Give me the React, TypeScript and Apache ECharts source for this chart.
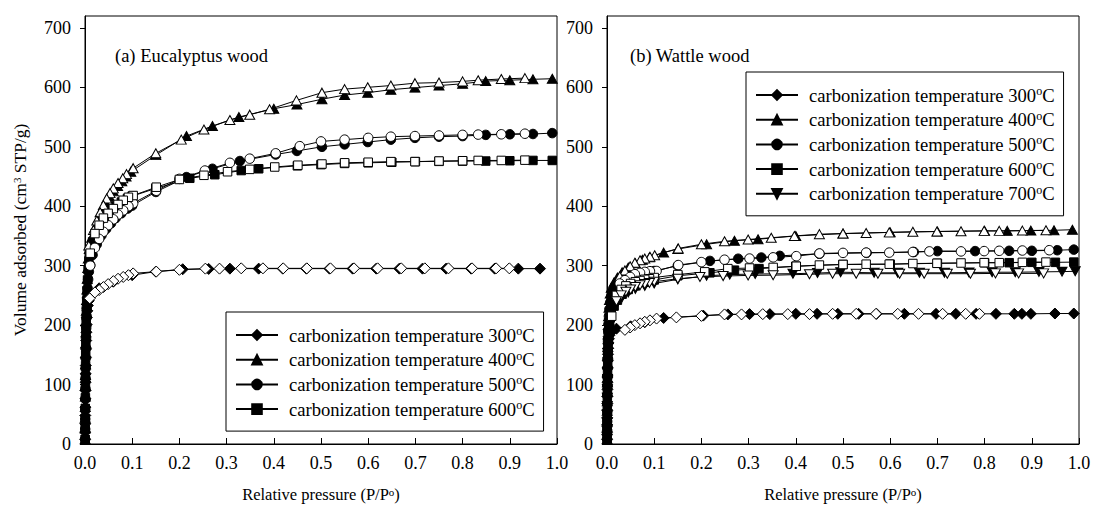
import React, { useEffect, useRef } from "react";
import * as echarts from "echarts";

type P = [number, number];

// ---------- data (P/P0, volume adsorbed cm3 STP/g) ----------
const tempLabels = ["300", "400", "500", "600", "700"];
const xTicks = [0, 0.1, 0.2, 0.3, 0.4, 0.5, 0.6, 0.7, 0.8, 0.9, 1.0];
const yTicks = [0, 100, 200, 300, 400, 500, 600, 700];

// (a) Eucalyptus wood
const eucAds300: P[] = [[0.0003,8],[0.0004,20],[0.0005,34],[0.0006,48],[0.0008,62],[0.0009,76],[0.0011,90],[0.0013,104],[0.0015,118],[0.0017,132],[0.002,146],[0.0023,160],[0.0026,174],[0.003,188],[0.0035,201],[0.004,213],[0.005,224],[0.006,233],[0.008,241],[0.012,250],[0.03,262],[0.06,273],[0.1,284],[0.15,290],[0.207,294],[0.262,294.5],[0.307,295],[0.368,295],[0.419,295],[0.469,295],[0.518,295],[0.567,295],[0.617,295],[0.666,295],[0.715,295],[0.765,295],[0.818,295],[0.868,295],[0.918,295],[0.964,295]];
const eucDes300: P[] = [[0.899,295.5],[0.871,295.5],[0.82,295.5],[0.77,295.5],[0.72,295.5],[0.67,295.5],[0.62,295.5],[0.57,295.5],[0.52,295.5],[0.47,295.5],[0.42,295.5],[0.377,295.5],[0.331,295.5],[0.285,295],[0.255,295],[0.2,293],[0.151,290],[0.102,287],[0.092,284],[0.081,281],[0.07,278],[0.06,274],[0.049,269],[0.039,264],[0.03,259],[0.021,255],[0.01,245]];
const eucAds400: P[] = [[0.0003,8],[0.0004,26],[0.0005,44],[0.0006,62],[0.0008,80],[0.0009,98],[0.0011,116],[0.0013,134],[0.0015,152],[0.0018,170],[0.002,188],[0.0024,206],[0.0028,224],[0.0033,242],[0.004,260],[0.0048,278],[0.0058,296],[0.007,312],[0.009,328],[0.014,347],[0.021,364],[0.028,379],[0.036,393],[0.044,405],[0.052,416],[0.06,425],[0.069,434],[0.078,442],[0.087,450],[0.097,458],[0.15,486],[0.215,518],[0.27,535],[0.326,550],[0.4,564],[0.449,571],[0.502,580],[0.55,587],[0.599,591],[0.648,596],[0.699,599.5],[0.75,603],[0.8,606],[0.849,610.5],[0.9,612],[0.949,613.5],[0.99,614.5]];
const eucDes400: P[] = [[0.932,615.5],[0.882,614],[0.833,612],[0.8,610],[0.75,608],[0.699,607],[0.648,603],[0.599,600],[0.55,597],[0.502,591],[0.448,578],[0.391,563],[0.349,554],[0.307,545],[0.252,529],[0.204,512],[0.15,489],[0.102,464],[0.088,454],[0.08,447],[0.07,439],[0.06,430],[0.053,422],[0.046,413],[0.039,402],[0.032,390],[0.025,376],[0.018,360],[0.008,334]];
const eucAds500: P[] = [[0.0003,8],[0.0004,25],[0.0005,42],[0.0006,59],[0.0008,76],[0.0009,93],[0.0011,110],[0.0013,127],[0.0015,144],[0.0018,161],[0.0021,178],[0.0025,195],[0.003,212],[0.0036,229],[0.0044,246],[0.0054,262],[0.0066,277],[0.0082,290],[0.011,301],[0.016,318],[0.025,336],[0.035,351],[0.045,362],[0.055,371],[0.065,380],[0.077,388],[0.09,396],[0.1,401],[0.15,424],[0.215,449],[0.27,463],[0.328,476],[0.404,487],[0.449,493],[0.502,500],[0.55,504],[0.599,508],[0.648,512],[0.699,515],[0.75,517],[0.8,518],[0.849,520],[0.9,521],[0.949,521.5],[0.99,523]];
const eucDes500: P[] = [[0.932,522],[0.882,521],[0.833,520.5],[0.8,520],[0.75,519],[0.699,518],[0.648,517],[0.6,515],[0.55,512],[0.5,509],[0.455,501],[0.404,489],[0.349,480],[0.307,473],[0.254,460],[0.2,446],[0.151,426],[0.102,405],[0.092,400],[0.081,393],[0.07,386],[0.06,378],[0.049,368],[0.039,357],[0.03,345],[0.021,330],[0.011,300]];
const eucAds600: P[] = [[0.0003,8],[0.0004,25],[0.0005,42],[0.0006,60],[0.0008,78],[0.0009,96],[0.0011,114],[0.0013,132],[0.0015,150],[0.0018,168],[0.0021,186],[0.0025,204],[0.003,222],[0.0036,240],[0.0044,258],[0.0054,276],[0.0066,293],[0.0082,308],[0.011,322],[0.016,340],[0.025,358],[0.035,373],[0.045,384],[0.055,392],[0.066,400],[0.077,407],[0.09,413],[0.1,417],[0.15,430],[0.222,447],[0.275,453],[0.331,460],[0.368,463],[0.45,468],[0.5,470],[0.55,472],[0.6,473],[0.65,474],[0.7,475],[0.75,475.5],[0.8,476],[0.849,476],[0.9,476.5],[0.949,477],[0.99,477]];
const eucDes600: P[] = [[0.932,477.5],[0.882,477],[0.833,477],[0.8,476.5],[0.75,476],[0.699,475],[0.648,475],[0.6,474],[0.55,473],[0.502,471],[0.451,469],[0.402,466],[0.349,462],[0.302,458],[0.252,452],[0.2,445],[0.151,432],[0.102,418],[0.092,415],[0.081,410],[0.07,403],[0.06,396],[0.049,388],[0.039,380],[0.03,368],[0.021,354],[0.011,321]];

// (b) Wattle wood
const watAds300: P[] = [[0.0002,8],[0.0003,20],[0.0004,32],[0.0005,44],[0.0006,56],[0.0007,68],[0.0008,80],[0.001,92],[0.0011,104],[0.0013,116],[0.0015,128],[0.0018,140],[0.0021,151],[0.0026,161],[0.0032,170],[0.004,177],[0.0052,183],[0.007,188],[0.012,191],[0.02,194],[0.05,198],[0.08,205],[0.12,212],[0.204,216],[0.256,218],[0.302,218.5],[0.345,218.5],[0.4,219],[0.445,219],[0.489,219],[0.533,219],[0.571,219],[0.63,219],[0.697,219],[0.739,219],[0.782,219],[0.824,219],[0.863,219],[0.879,219],[0.898,219],[0.949,219.5],[0.989,219.5]];
const watDes300: P[] = [[0.789,219],[0.76,219],[0.711,219],[0.66,219],[0.616,219],[0.57,219],[0.528,219],[0.478,219],[0.429,218.5],[0.383,218.5],[0.33,218.5],[0.285,218],[0.249,218],[0.2,215.5],[0.147,213],[0.105,211],[0.091,208],[0.08,205.5],[0.07,203],[0.059,200],[0.049,196],[0.038,192]];
const watAds400: P[] = [[0.0002,8],[0.0003,24],[0.0004,40],[0.0005,56],[0.0006,72],[0.0007,88],[0.0009,104],[0.001,120],[0.0012,136],[0.0015,152],[0.0018,168],[0.0022,184],[0.0027,200],[0.0033,215],[0.0041,229],[0.0052,242],[0.0068,253],[0.009,263],[0.015,272],[0.022,280],[0.032,289],[0.045,297],[0.06,304],[0.075,310],[0.09,314],[0.12,322],[0.15,328],[0.211,336],[0.27,342],[0.32,344.5],[0.4,350],[0.5,354],[0.6,356],[0.7,357.5],[0.8,358.5],[0.848,358.5],[0.898,359],[0.947,359.5],[0.986,360.5]];
const watDes400: P[] = [[0.93,359.5],[0.88,359],[0.831,358.5],[0.799,358.5],[0.75,358],[0.699,357.5],[0.648,357],[0.598,356],[0.549,355],[0.5,354],[0.45,353],[0.397,350],[0.348,347],[0.299,344],[0.249,341],[0.2,336],[0.151,329],[0.101,317.5],[0.091,315],[0.08,312],[0.07,309],[0.059,305],[0.049,299],[0.038,292],[0.027,282]];
const watAds500: P[] = [[0.0002,8],[0.0003,23],[0.0004,38],[0.0005,53],[0.0006,68],[0.0007,83],[0.0009,98],[0.001,113],[0.0012,128],[0.0015,143],[0.0018,158],[0.0022,173],[0.0027,188],[0.0033,202],[0.0041,215],[0.0052,227],[0.0068,238],[0.009,248],[0.015,257],[0.022,264],[0.032,272],[0.045,279],[0.06,284],[0.08,288],[0.1,291],[0.15,300],[0.218,308],[0.278,311.7],[0.327,313.7],[0.366,316.5],[0.45,320],[0.55,321.5],[0.65,323],[0.7,324.5],[0.78,324.5],[0.852,325],[0.9,325],[0.954,326],[0.989,327]];
const watDes500: P[] = [[0.937,326],[0.88,325.5],[0.831,325],[0.799,324.5],[0.75,324],[0.683,324],[0.648,323],[0.598,322],[0.549,322],[0.5,321.5],[0.45,320.5],[0.401,316],[0.352,314],[0.302,312],[0.249,310],[0.2,306],[0.151,301],[0.105,291],[0.091,290.7],[0.08,289.6],[0.07,288],[0.059,285.7],[0.049,281],[0.038,275.6],[0.027,270]];
const watAds600: P[] = [[0.0002,8],[0.0003,22],[0.0004,36],[0.0005,50],[0.0006,64],[0.0007,78],[0.0009,92],[0.001,106],[0.0012,120],[0.0015,134],[0.0018,148],[0.0022,162],[0.0027,175],[0.0033,187],[0.0041,197],[0.0052,205],[0.0068,212],[0.009,220],[0.015,232],[0.022,242],[0.032,252],[0.045,260],[0.06,266],[0.08,272],[0.1,276],[0.15,283],[0.218,288],[0.27,292.4],[0.322,295],[0.4,299],[0.5,302],[0.6,302.5],[0.7,304],[0.8,305],[0.852,305],[0.9,305.6],[0.95,305.6],[0.989,306]];
const watDes600: P[] = [[0.93,306],[0.88,305.6],[0.831,305],[0.799,305],[0.75,304.5],[0.699,304],[0.648,303.6],[0.598,302.5],[0.549,302.5],[0.5,302],[0.45,301],[0.401,299],[0.352,297],[0.302,296],[0.256,295],[0.207,289.6],[0.15,285],[0.1,280],[0.09,278],[0.08,277],[0.07,275],[0.06,273],[0.05,270],[0.04,266],[0.03,260],[0.02,250],[0.01,215]];
const watAds700: P[] = [[0.0002,8],[0.0003,22],[0.0004,36],[0.0005,50],[0.0006,64],[0.0007,78],[0.0009,92],[0.001,106],[0.0012,120],[0.0015,134],[0.0018,148],[0.0022,161],[0.0027,173],[0.0033,184],[0.0041,194],[0.0052,203],[0.0068,211],[0.009,219],[0.015,229],[0.022,238],[0.032,247],[0.045,255],[0.06,261],[0.08,266],[0.1,270],[0.15,277],[0.211,283],[0.26,285],[0.314,286],[0.394,286.5],[0.446,287.6],[0.495,289],[0.566,288],[0.616,288],[0.662,288],[0.715,288],[0.767,288.5],[0.816,289],[0.865,289],[0.915,289.5],[0.964,290],[0.992,290.5]];
const watDes700: P[] = [[0.925,287],[0.872,287],[0.823,287],[0.77,286.5],[0.721,286.5],[0.672,286.5],[0.62,286.5],[0.574,286.5],[0.528,286.5],[0.478,286.5],[0.429,285.5],[0.352,284],[0.299,283.6],[0.246,282.5],[0.197,281],[0.15,278],[0.1,273],[0.09,271],[0.08,269],[0.07,267],[0.06,264],[0.05,260],[0.04,256],[0.03,250],[0.02,240]];

const FONT = '"Liberation Serif", "Times New Roman", Times, serif';

const legendName = (t: string) => `carbonization temperature ${t}oC`;

const symbolFor: Record<string, { symbol: string; size: number | number[]; rotate: number }> = {
  "300": { symbol: "diamond", size: [11, 11], rotate: 0 },
  "400": { symbol: "triangle", size: [10, 9], rotate: 0 },
  "500": { symbol: "circle", size: 9.5, rotate: 0 },
  "600": { symbol: "rect", size: 8.5, rotate: 0 },
  "700": { symbol: "triangle", size: [10, 9], rotate: 180 },
};

function mkSeries(name: string, t: string, data: P[], filled: boolean, idx: number) {
  const s = symbolFor[t];
  return {
    type: "line",
    name,
    data,
    xAxisIndex: idx,
    yAxisIndex: idx,
    symbol: s.symbol,
    symbolSize: s.size,
    symbolRotate: s.rotate,
    showAllSymbol: true,
    lineStyle: { color: "#000", width: 1 },
    itemStyle: { color: filled ? "#000" : "#fff", borderColor: "#000", borderWidth: 1 },
    emphasis: { disabled: true },
    silent: true,
    z: filled ? 2 : 3,
  };
}

const supRich = {
  sup: { fontSize: 11, fontFamily: FONT, color: "#000", verticalAlign: "top", lineHeight: 11 },
};

export default function App() {
  const ref = useRef<HTMLDivElement>(null);
  useEffect(() => {
    if (!ref.current) return;
    const chart = echarts.init(ref.current, undefined, { renderer: "svg" });
    const grids = [
      { left: 85, top: 16, width: 472, height: 428 },
      { left: 607, top: 16, width: 472, height: 428 },
    ];
    const xAxes = grids.map((_, i) => ({
      type: "value",
      gridIndex: i,
      min: 0,
      max: 1,
      interval: 0.1,
      axisLine: { show: true, onZero: false, lineStyle: { color: "#000", width: 1 } },
      axisTick: { show: true, inside: true, length: 6, customValues: xTicks, lineStyle: { color: "#000" } },
      axisLabel: {
        color: "#000",
        fontSize: 18,
        fontFamily: FONT,
        margin: 10,
        customValues: xTicks,
        formatter: (v: number) => v.toFixed(1),
      },
      splitLine: { show: false },
      name: "Relative pressure (P/P{sup|o})",
      nameLocation: "middle",
      nameGap: 42,
      nameTextStyle: { color: "#000", fontSize: 16.5, fontFamily: FONT, rich: supRich },
    }));
    const yAxes = grids.map((_, i) => ({
      type: "value",
      gridIndex: i,
      min: 0,
      max: 720,
      interval: 100,
      axisLine: { show: true, onZero: false, lineStyle: { color: "#000", width: 1 } },
      axisTick: { show: true, inside: false, length: 5, customValues: yTicks, lineStyle: { color: "#000" } },
      axisLabel: { color: "#000", fontSize: 18, fontFamily: FONT, margin: 14, customValues: yTicks },
      splitLine: { show: false },
      ...(i === 0
        ? {
            name: "Volume adsorbed (cm{sup|3} STP/g)",
            nameLocation: "middle",
            nameGap: 56,
            nameTextStyle: { color: "#000", fontSize: 17.5, fontFamily: FONT, rich: supRich },
          }
        : {}),
    }));

    const euc: [string, P[], P[]][] = [
      ["300", eucAds300, eucDes300],
      ["400", eucAds400, eucDes400],
      ["500", eucAds500, eucDes500],
      ["600", eucAds600, eucDes600],
    ];
    const wat: [string, P[], P[]][] = [
      ["300", watAds300, watDes300],
      ["400", watAds400, watDes400],
      ["500", watAds500, watDes500],
      ["600", watAds600, watDes600],
      ["700", watAds700, watDes700],
    ];
    const series: any[] = [];
    euc.forEach(([t, ads, des]) => {
      series.push(mkSeries(legendName(t), t, ads, true, 0));
      series.push(mkSeries(`a desorption ${t}`, t, des, false, 0));
    });
    wat.forEach(([t, ads, des]) => {
      series.push(mkSeries(legendName(t), t, ads, true, 1));
      series.push(mkSeries(`b desorption ${t}`, t, des, false, 1));
    });

    const legendBase = {
      orient: "vertical",
      itemWidth: 42,
      itemHeight: 12,
      itemGap: 4.7,
      padding: [13, 9, 12, 9],
      borderColor: "#000",
      borderWidth: 1,
      backgroundColor: "#fff",
      selectedMode: false,
      textStyle: {
        color: "#000",
        fontSize: 18.6,
        fontFamily: FONT,
        lineHeight: 20,
        padding: [0, 0, 0, 6],
        rich: { sup: { fontSize: 12, fontFamily: FONT, color: "#000", verticalAlign: "top", lineHeight: 10 } },
      },
      formatter: (name: string) => name.replace(/oC$/, "{sup|o}C"),
    };

    chart.setOption({
      animation: false,
      backgroundColor: "#fff",
      grid: grids.map((g) => ({ ...g, show: true, borderColor: "#000", borderWidth: 1, backgroundColor: "transparent" })),
      xAxis: xAxes,
      yAxis: yAxes,
      legend: [
        { ...legendBase, left: 226, top: 312, data: tempLabels.slice(0, 4).map(legendName) },
        { ...legendBase, left: 746, top: 72, data: tempLabels.map(legendName) },
      ],
      graphic: [
        { type: "text", left: 115, top: 46, style: { text: "(a) Eucalyptus wood", font: `18.5px ${FONT}`, fill: "#000" } },
        { type: "text", left: 630, top: 46, style: { text: "(b) Wattle wood", font: `18.5px ${FONT}`, fill: "#000" } },
      ],
      series,
    });
    return () => chart.dispose();
  }, []);
  return <div ref={ref} style={{ position: "fixed", left: 0, top: 0, width: 1098, height: 514 }} />;
}
